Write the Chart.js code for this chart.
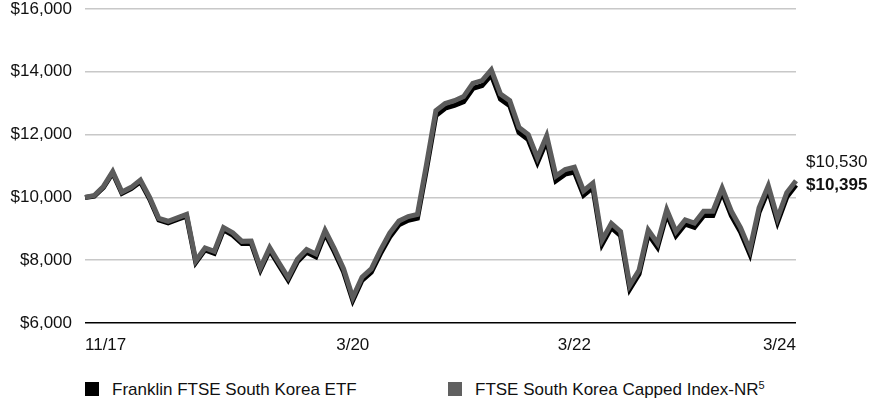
<!DOCTYPE html>
<html>
<head>
<meta charset="utf-8">
<script src="https://cdn.jsdelivr.net/npm/chart.js@4.4.1/dist/chart.umd.min.js"></script>
<style>
  html, body { margin: 0; padding: 0; background: #fff; }
  #wrap { position: relative; width: 876px; height: 405px; font-family: "Liberation Sans", Arial, sans-serif; }
  #chart { position: absolute; left: 0; top: 0; }
  .key { position: absolute; top: 380px; font-size: 17px; color: #111; white-space: nowrap; line-height: 20px; }
  .key i { display: inline-block; width: 14px; height: 14px; margin-right: 13px; vertical-align: -1px; }
  .key sup { font-size: 11px; vertical-align: 6px; line-height: 0; }
</style>
</head>
<body>
<div id="wrap">
  <canvas id="chart" width="876" height="365"></canvas>
  <div class="key" style="left:85px"><i style="background:#000"></i>Franklin FTSE South Korea ETF</div>
  <div class="key" style="left:448px"><i style="background:#606060"></i>FTSE South Korea Capped Index-NR<sup>5</sup></div>
</div>
<script>
// inception point followed by month-end values, 11/17 - 3/24
var periods = ['11/17',
  '11/17', '12/17',
  '1/18', '2/18', '3/18', '4/18', '5/18', '6/18', '7/18', '8/18', '9/18', '10/18', '11/18', '12/18',
  '1/19', '2/19', '3/19', '4/19', '5/19', '6/19', '7/19', '8/19', '9/19', '10/19', '11/19', '12/19',
  '1/20', '2/20', '3/20', '4/20', '5/20', '6/20', '7/20', '8/20', '9/20', '10/20', '11/20', '12/20',
  '1/21', '2/21', '3/21', '4/21', '5/21', '6/21', '7/21', '8/21', '9/21', '10/21', '11/21', '12/21',
  '1/22', '2/22', '3/22', '4/22', '5/22', '6/22', '7/22', '8/22', '9/22', '10/22', '11/22', '12/22',
  '1/23', '2/23', '3/23', '4/23', '5/23', '6/23', '7/23', '8/23', '9/23', '10/23', '11/23', '12/23',
  '1/24', '2/24', '3/24'];

var fundValues = [10000,
  10040, 10320, 10780, 10130, 10280, 10500, 9950, 9280, 9190, 9300, 9400, 7930, 8330, 8220,
  8970, 8800, 8530, 8540, 7690, 8320, 7840, 7370, 7950, 8250, 8110, 8850,
  8270, 7630, 6720, 7360, 7620, 8210, 8740, 9130, 9270, 9340, 10930, 12610,
  12840, 12930, 13050, 13470, 13560, 13900, 13130, 12920, 12070, 11840, 11110, 11800,
  10530, 10740, 10810, 10070, 10310, 8510, 9040, 8780, 7080, 7560, 8830, 8410,
  9470, 8780, 9150, 9050, 9420, 9420, 10160, 9420, 8900, 8200, 9530, 10230,
  9210, 10010, 10395];

var indexValues = [10000,
  10060, 10350, 10820, 10170, 10320, 10550, 10000, 9330, 9240, 9350, 9460, 7980, 8390, 8280,
  9040, 8870, 8600, 8610, 7760, 8400, 7920, 7450, 8030, 8340, 8200, 8950,
  8370, 7730, 6810, 7460, 7720, 8320, 8860, 9250, 9390, 9460, 11070, 12760,
  12990, 13080, 13210, 13630, 13720, 14060, 13290, 13080, 12230, 12000, 11260, 11960,
  10680, 10890, 10960, 10210, 10450, 8640, 9170, 8910, 7200, 7680, 8960, 8540,
  9610, 8910, 9280, 9180, 9560, 9560, 10300, 9560, 9030, 8330, 9670, 10370,
  9340, 10150, 10530];

var tickLabels = ['11/17', '3/20', '3/22', '3/24'];

var FONT = '"Liberation Sans", Arial, sans-serif';

function money(v) {
    return '$' + Math.round(v).toLocaleString('en-US');
}

// ending values written to the right of the plot
var endLabels = {
    id: 'endLabels',
    afterDatasetsDraw: function (chart) {
        var y = chart.scales.y;
        var last = fundValues.length - 1;
        var yFund = y.getPixelForValue(fundValues[last]);
        var yIndex = Math.min(y.getPixelForValue(indexValues[last]), yFund - 23);
        var ctx = chart.ctx;
        ctx.save();
        ctx.fillStyle = '#111';
        ctx.textAlign = 'left';
        ctx.textBaseline = 'middle';
        ctx.font = '17px ' + FONT;
        ctx.fillText(money(indexValues[last]), 806, yIndex);
        ctx.font = 'bold 17px ' + FONT;
        ctx.fillText(money(fundValues[last]), 806, yFund);
        ctx.restore();
    }
};

new Chart(document.getElementById('chart'), {
    type: 'line',
    data: {
        labels: periods,
        datasets: [{
            label: 'Franklin FTSE South Korea ETF',
            data: fundValues,
            borderColor: '#000',
            backgroundColor: '#000',
            borderWidth: 5,
            order: 1
        }, {
            label: 'FTSE South Korea Capped Index-NR',
            data: indexValues,
            borderColor: '#5c5c5c',
            backgroundColor: '#5c5c5c',
            borderWidth: 5,
            order: 0
        }]
    },
    options: {
        responsive: false,
        animation: false,
        events: [],
        elements: {
            point: { radius: 0 },
            line: { tension: 0, fill: false, borderJoinStyle: 'miter', borderCapStyle: 'butt' }
        },
        layout: { padding: { left: 0, right: 80, top: 0, bottom: 0 } },
        plugins: {
            legend: { display: false },
            tooltip: { enabled: false }
        },
        scales: {
            x: {
                offset: false,
                grid: { display: false, drawTicks: false },
                border: { display: false },
                afterBuildTicks: function (scale) {
                    var seen = {};
                    scale.ticks = scale.ticks.filter(function (t) {
                        var lbl = periods[t.value];
                        if (tickLabels.indexOf(lbl) < 0 || seen[lbl]) return false;
                        seen[lbl] = true;
                        return true;
                    });
                },
                afterFit: function (scale) { scale.height = 42; },
                ticks: {
                    autoSkip: false,
                    maxRotation: 0,
                    align: 'inner',
                    padding: 12,
                    color: '#111',
                    font: { family: FONT, size: 17 }
                }
            },
            y: {
                min: 6000,
                max: 16000,
                afterFit: function (scale) {
                    scale.width = 85;
                    scale.paddingTop = 9;
                },
                grid: {
                    drawTicks: false,
                    lineWidth: 1.5,
                    color: function (c) { return c.tick.value === 6000 ? '#000' : '#c8c8c8'; }
                },
                border: { display: false },
                ticks: {
                    stepSize: 2000,
                    padding: 13,
                    color: '#111',
                    font: { family: FONT, size: 17 },
                    callback: function (v) { return money(v); }
                }
            }
        }
    },
    plugins: [endLabels]
});
</script>
</body>
</html>
